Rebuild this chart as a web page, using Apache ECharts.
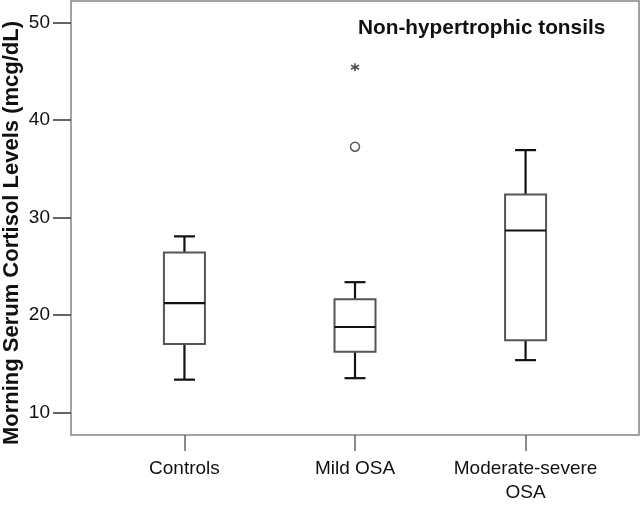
<!DOCTYPE html>
<html>
<head>
<meta charset="utf-8">
<script src="https://cdn.jsdelivr.net/npm/echarts@6/dist/echarts.min.js"></script>
<style>html,body{margin:0;padding:0;background:#fff;}#chart{width:641px;height:505px;}</style>
</head>
<body>
<div id="chart"></div>
<script>
// ---- data ----
var categories = ['Controls', 'Mild OSA', 'Moderate-severe\nOSA'];
var whiskerLow  = [13.35, 13.5, 15.35];
var q1          = [17.0, 16.2, 17.4];
var median      = [21.2, 18.75, 28.65];
var q3          = [26.4, 21.6, 32.35];
var whiskerHigh = [28.05, 23.35, 36.9];
var outlierCircle  = [[1, 37.25]];
var outlierExtreme = [[1, 45.4]];
var yTicks = [10, 20, 30, 40, 50];
var yTitle = 'Morning Serum Cortisol Levels (mcg/dL)';
var annotation = 'Non-hypertrophic tonsils';

var FONT = '"Liberation Sans", Arial, sans-serif';
var boxData = categories.map(function (c, i) {
  return [i, whiskerLow[i], q1[i], median[i], q3[i], whiskerHigh[i]];
});

var chart = echarts.init(document.getElementById('chart'), null, {renderer: 'canvas'});
chart.setOption({
  animation: false,
  backgroundColor: '#fff',
  grid: {left: 71, top: 1, right: 2, bottom: 65, show: true, borderColor: '#858585', borderWidth: 1.5, backgroundColor: '#fff'},
  xAxis: {
    type: 'value', min: -0.665, max: 2.665,
    splitLine: {show: false},
    axisLine: {show: false, onZero: false},
    axisTick: {show: true, inside: false, length: 16, customValues: [0, 1, 2], lineStyle: {color: '#666', width: 1.5}},
    axisLabel: {show: true, customValues: [0, 1, 2], margin: 22, color: '#111', fontFamily: FONT, fontSize: 19, lineHeight: 24,
      formatter: function (v) { return categories[Math.round(v)]; }}
  },
  yAxis: {
    type: 'value', min: 7.67, max: 52.2,
    splitLine: {show: false},
    axisLine: {show: false, onZero: false},
    axisTick: {show: true, inside: false, length: 18, customValues: yTicks, lineStyle: {color: '#333', width: 1.5}},
    axisLabel: {show: true, customValues: yTicks, margin: 21, color: '#111', fontFamily: FONT, fontSize: 19}
  },
  graphic: [
    {type: 'text', x: 12, y: 233, rotation: Math.PI / 2,
      style: {text: yTitle, font: 'bold 22px ' + FONT, fill: '#111', align: 'center', verticalAlign: 'middle'}},
    {type: 'text', x: 358, y: 28,
      style: {text: annotation, font: 'bold 20.8px ' + FONT, fill: '#111', align: 'left', verticalAlign: 'middle'}}
  ],
  series: [
    {
      type: 'custom',
      data: boxData,
      renderItem: function (params, api) {
        var x = api.value(0);
        var pLow = api.coord([x, api.value(1)]);
        var pQ1 = api.coord([x, api.value(2)]);
        var pMed = api.coord([x, api.value(3)]);
        var pQ3 = api.coord([x, api.value(4)]);
        var pHigh = api.coord([x, api.value(5)]);
        var cx = pMed[0];
        var hw = 20.5, cw = 10.5;
        var black = {stroke: '#111', lineWidth: 2.2, fill: null};
        return {
          type: 'group',
          children: [
            {type: 'line', shape: {x1: cx, y1: pQ3[1], x2: cx, y2: pHigh[1]}, style: black},
            {type: 'line', shape: {x1: cx, y1: pQ1[1], x2: cx, y2: pLow[1]}, style: black},
            {type: 'line', shape: {x1: cx - cw, y1: pHigh[1], x2: cx + cw, y2: pHigh[1]}, style: black},
            {type: 'line', shape: {x1: cx - cw, y1: pLow[1], x2: cx + cw, y2: pLow[1]}, style: black},
            {type: 'rect', shape: {x: cx - hw, y: pQ3[1], width: 2 * hw, height: pQ1[1] - pQ3[1]},
              style: {fill: '#fff', stroke: '#555', lineWidth: 2}},
            {type: 'line', shape: {x1: cx - hw, y1: pMed[1], x2: cx + hw, y2: pMed[1]}, style: black}
          ]
        };
      }
    },
    {
      type: 'scatter', data: outlierCircle, symbol: 'circle', symbolSize: 9,
      itemStyle: {color: '#fff', borderColor: '#333', borderWidth: 1.5}
    },
    {
      type: 'scatter', data: outlierExtreme,
      symbol: 'path://M5 0L5 10M0.67 2.5L9.33 7.5M0.67 7.5L9.33 2.5', symbolSize: 8,
      itemStyle: {color: 'none', borderColor: '#222', borderWidth: 1.5}
    }
  ]
});
</script>
</body>
</html>
